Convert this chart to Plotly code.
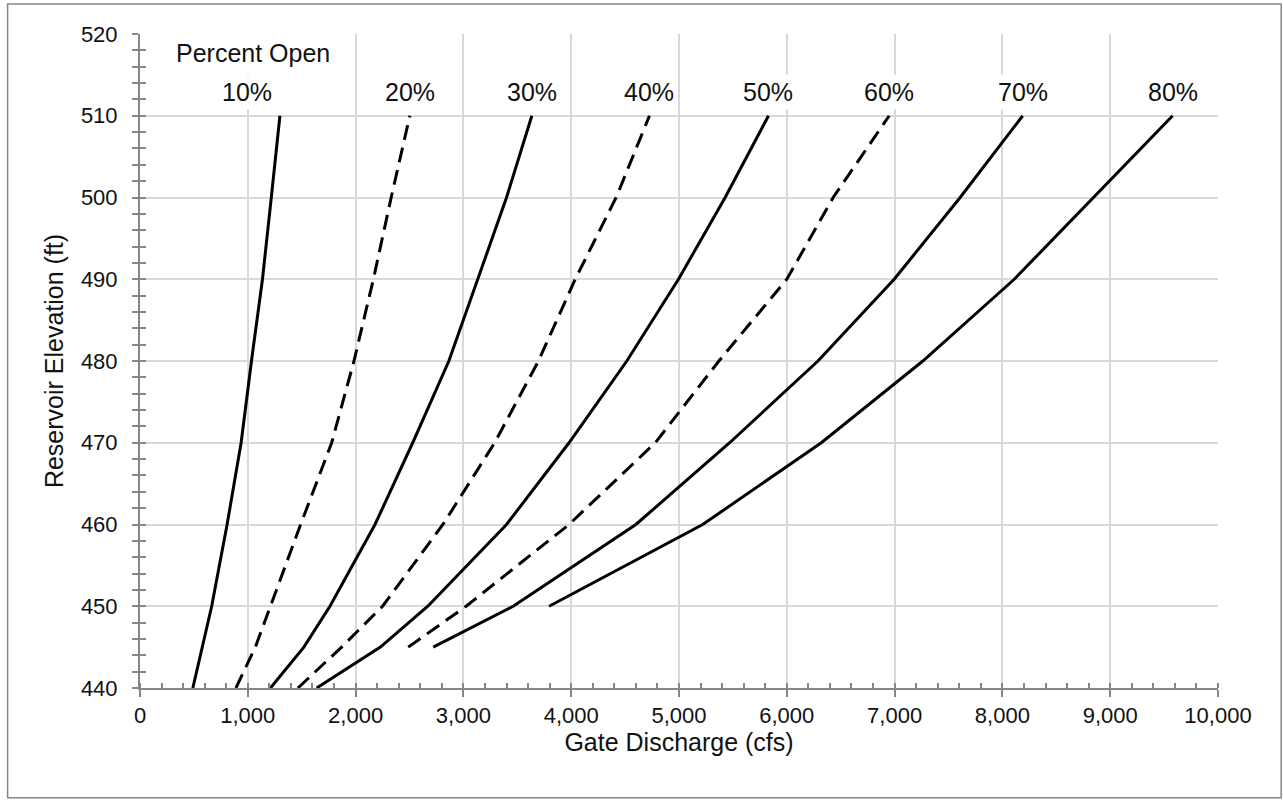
import plotly.graph_objects as go

# ---- data ----
elevation = [440, 445, 450, 460, 470, 480, 490, 500, 510]
series_names = ["10%", "20%", "30%", "40%", "50%", "60%", "70%", "80%"]
q10 = [490, 575, 665, 808, 938, 1034, 1136, 1218, 1298]
q20 = [890, 1070, 1210, 1490, 1778, 1985, 2165, 2330, 2503]
q30 = [1210, 1520, 1762, 2180, 2530, 2865, 3133, 3400, 3635]
q40 = [1465, 1870, 2250, 2810, 3290, 3696, 4037, 4417, 4726]
q50 = [1639, 2230, 2670, 3400, 3980, 4516, 4995, 5428, 5830]
q60 = [None, 2488, 3025, 3980, 4780, 5370, 6000, 6430, 6950]
q70 = [None, 2720, 3462, 4600, 5470, 6289, 6996, 7608, 8188]
q80 = [None, None, 3795, 5220, 6320, 7262, 8110, 8848, 9579]
dashed = [False, True, False, True, False, True, False, False]
series_values = [q10, q20, q30, q40, q50, q60, q70, q80]
label_xshift = [-33, 0, 0, 0, 0, 0, 0, 0]

x_ticks = list(range(0, 10001, 1000))
y_ticks = list(range(440, 521, 10))

FONT = "Liberation Sans, Arial, sans-serif"
TXT = "#111111"
AX = "#868686"
GRID = "#d9d9d9"
FS_TICK = 22
FS_TITLE = 25
FS_LABEL = 25

fig = go.Figure()
for name, vals, dsh, xs_shift in zip(series_names, series_values, dashed, label_xshift):
    xs = [v for v in vals if v is not None]
    ys = [e for v, e in zip(vals, elevation) if v is not None]
    fig.add_trace(go.Scatter(
        x=xs, y=ys, mode="lines", name=name, showlegend=False,
        line=dict(color="black", width=3, dash="15px,8px" if dsh else "solid"),
        hoverinfo="skip"))
    fig.add_annotation(x=xs[-1], y=ys[-1], text=name, showarrow=False,
                       yshift=24, xshift=xs_shift, bgcolor="white", borderpad=3,
                       font=dict(family=FONT, size=FS_LABEL, color=TXT))

# invisible trace to register overlay axes (for crossing ticks)
fig.add_trace(go.Scatter(x=q10, y=elevation, xaxis="x2", yaxis="y2",
                         mode="lines", line=dict(width=0), opacity=0,
                         showlegend=False, hoverinfo="skip"))

fig.add_annotation(x=1045, y=517.7, text="Percent Open", showarrow=False,
                   bgcolor="white", borderpad=6,
                   font=dict(family=FONT, size=FS_LABEL, color=TXT))

fig.update_layout(
    width=1283, height=801,
    margin=dict(l=139.5, r=64.7, t=34, b=112.7),
    paper_bgcolor="white", plot_bgcolor="white",
    font=dict(family=FONT, size=FS_TICK, color=TXT),
    xaxis=dict(range=[0, 10000], tickvals=x_ticks, tickformat=",d",
               showgrid=True, gridcolor=GRID, gridwidth=2,
               showline=True, linecolor=AX, linewidth=2,
               ticks="outside", ticklen=7, tickwidth=2, tickcolor=AX,
               minor=dict(dtick=200, ticks="inside", ticklen=5, tickwidth=2,
                          tickcolor=AX, showgrid=False),
               zeroline=False, tickfont=dict(size=FS_TICK, color=TXT),
               title=dict(text="Gate Discharge (cfs)", standoff=6,
                          font=dict(size=FS_TITLE, color=TXT))),
    yaxis=dict(range=[440, 520], tickvals=y_ticks,
               showgrid=True, gridcolor=GRID, gridwidth=2,
               showline=True, linecolor=AX, linewidth=2,
               ticks="outside", ticklen=6, tickwidth=2, tickcolor=AX,
               minor=dict(dtick=2, ticks="outside", ticklen=6, tickwidth=2,
                          tickcolor=AX, showgrid=False),
               zeroline=False, tickfont=dict(size=FS_TICK, color=TXT),
               ticklabelstandoff=10,
               title=dict(text="Reservoir Elevation (ft)", standoff=10,
                          font=dict(size=FS_TITLE, color=TXT))),
    xaxis2=dict(range=[0, 10000], overlaying="x", anchor="y", side="bottom",
                tickvals=x_ticks, showticklabels=False, showgrid=False,
                showline=False, zeroline=False,
                ticks="inside", ticklen=5, tickwidth=2, tickcolor=AX),
    yaxis2=dict(range=[440, 520], overlaying="y", anchor="x", side="left",
                tickvals=y_ticks, showticklabels=False, showgrid=False,
                showline=False, zeroline=False,
                ticks="inside", ticklen=6, tickwidth=2, tickcolor=AX,
                minor=dict(dtick=2, ticks="inside", ticklen=6, tickwidth=2,
                           tickcolor=AX, showgrid=False)),
)

# outer chart border
fig.add_shape(type="rect", xref="paper", yref="paper",
              x0=-0.1228, x1=1.0586, y0=-0.1677, y1=1.0458,
              line=dict(color=AX, width=1.5), fillcolor="rgba(0,0,0,0)",
              layer="below")

fig.write_html("out.html")
